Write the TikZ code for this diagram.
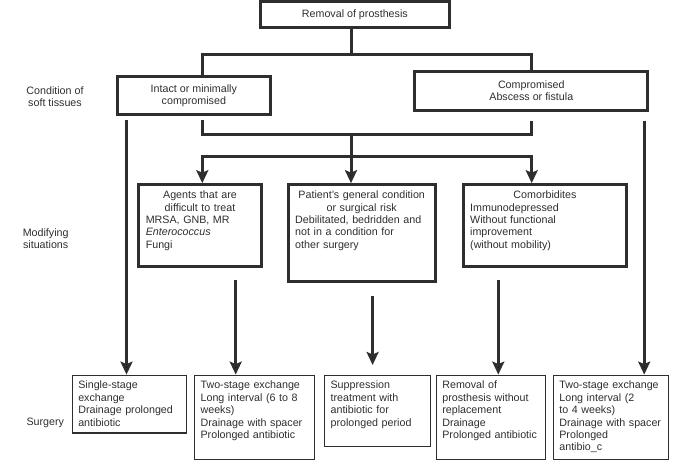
\documentclass[tikz,border=0pt]{standalone}
\usepackage{fontspec}
\setmainfont{Liberation Sans}
\usepackage{tikz}
\usetikzlibrary{arrows.meta}
\usetikzlibrary{calc}

\definecolor{ink}{HTML}{2E2E2E}
\newcommand{\ctrline}[1]{\makebox[\linewidth]{#1}}

\begin{document}
\begin{tikzpicture}[x=1pt,y=-1pt,
    every node/.style={text=ink,font=\fontsize{10.7}{12.4}\selectfont},
    condbox/.style={draw=ink,line width=3pt,align=center,inner sep=0pt},
    modbox/.style={draw=ink,line width=3pt,anchor=north,align=left,inner xsep=7pt,inner ysep=6pt,text height=8pt},
    surgbox/.style={draw=ink,line width=1.3pt,anchor=north,align=left,inner xsep=6pt,inner ysep=5.6pt,text height=8pt},
    link/.style={draw=ink,line width=3pt},
    >={Stealth[length=13pt,width=12pt,inset=2.5pt]}]
  \useasboundingbox (0,0) rectangle (691,463);

  % row labels
  \node [align=center] (lblsoft) at (55,96.7) {Condition of\\soft tissues};
  \node [align=center] (lblmod) at (45.7,238.8) {Modifying\\situations};
  \node (lblsurg) at (45.3,422.7) {Surgery};

  % condition of soft tissues
  \node [condbox,minimum width=188.7pt,minimum height=26.3pt] (removal) at (354.85,14.65) {Removal of prosthesis};
  \node [condbox,minimum width=152.7pt,minimum height=38pt] (intact) at (193.85,95.5) {Intact or minimally\\compromised};
  \node [condbox,minimum width=233pt,minimum height=38.7pt] (compr) at (531.3,90.85) {Compromised\\Abscess or fistula};

  % modifying situations
  \node [modbox,text width=108.4pt,text depth=62pt] (agents) at (200,183.2)
    {\ctrline{Agents that are}\\\ctrline{difficult to treat}\\MRSA, GNB, MR\\\textit{Enterococcus}\\Fungi};
  \node [modbox,text width=133pt,text depth=77pt] (patient) at (361.7,183.2)
    {\ctrline{Patient's general condition}\\\ctrline{or surgical risk}\\Debilitated, bedridden and\\not in a condition for\\other surgery};
  \node [modbox,text width=149.6pt,text depth=62pt] (comorb) at (545,183.2)
    {\ctrline{Comorbidites}\\Immunodepressed\\Without functional\\improvement\\(without mobility)};

  % surgery
  \node [surgbox,text width=102.4pt,text depth=38.6pt] (single) at (129.5,374.6)
    {Single-stage\\exchange\\Drainage prolonged\\antibiotic};
  \node [surgbox,text width=107.8pt,text depth=64.8pt] (twostageA) at (254.5,374.6)
    {Two-stage exchange\\Long interval (6 to 8\\weeks)\\Drainage with spacer\\Prolonged antibiotic};
  \node [surgbox,text width=93.8pt,text depth=52.3pt] (suppr) at (377.5,374.6)
    {Suppression\\treatment with\\antibiotic for\\prolonged period};
  \node [surgbox,text width=97pt,text depth=64.8pt] (noreplace) at (490.85,374.6)
    {Removal of\\prosthesis without\\replacement\\Drainage\\Prolonged antibiotic};
  \node [surgbox,text width=103.3pt,text depth=64.8pt] (twostageB) at (611,374.6)
    {Two-stage exchange\\Long interval (2\\to 4 weeks)\\Drainage with spacer\\Prolonged\\antibio\_c};

  \coordinate (split1) at (351,54);
  \coordinate (merge) at (351,134);
  \coordinate (split2) at (351,156.5);
  \coordinate (xl) at (202.3,0);
  \coordinate (dropL) at ($(intact.south west)+(10.5,3.5)$);
  \coordinate (dropR) at ($(compr.south east)+(-5.1,8.8)$);
  \coordinate (dropA) at ($(agents.south)+(35.7,12)$);
  \coordinate (dropP) at ($(patient.south)+(10.9,12.8)$);
  \coordinate (dropC) at ($(comorb.south)+(-46.7,12)$);

  \path [link] (removal.south -| split1) -- (split1);
  \path [link] (intact.north -| xl) |- (split1) -| (compr.north);
  \path [link] ($(intact.south -| xl)+(0,3.5)$) |- (merge) -| ($(compr.south)+(0,8.8)$);
  \path [link] (merge) -- (split2);

  \path [link,->] (split2) -| (agents.north -| xl);
  \path [link,->] (split2) -| ($(comorb.north)+(-13.3,0)$);

  \path [link]
    (split2) edge [->] (patient.north -| split2)
    (dropL) edge [->] (dropL |- single.north)
    (dropR) edge [->] (dropR |- twostageB.north)
    (dropA) edge [->] (dropA |- twostageA.north)
    (dropP) edge [->] ($(dropP |- suppr.north)+(0,-9.6)$)
    (dropC) edge [->] (dropC |- noreplace.north);

\end{tikzpicture}
\end{document}
